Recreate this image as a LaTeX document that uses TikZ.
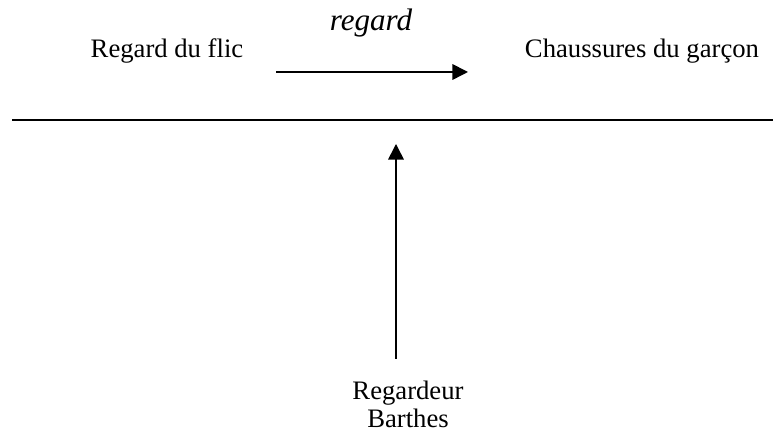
\documentclass[tikz,border=0pt]{standalone}
\usepackage{fontspec}
\setmainfont{Liberation Serif}
\usetikzlibrary{arrows.meta,positioning}
\tikzset{
  label12/.style={inner sep=0pt,font=\fontsize{12}{12.6}\selectfont},
  gaze/.style={-{Triangle[length=7pt,width=7pt]},line width=0.7pt}
}

\begin{document}
\begin{tikzpicture}[x=0.45pt,y=0.45pt]
    \useasboundingbox (0,0) rectangle (773,432);
    \node[label12,anchor=base] (flic) at (167,374) {Regard du flic};
    \node[label12,anchor=base] (shoes) at (642,374) {Chaussures du gar\c{c}on};
    \node[label12,anchor=base,font=\fontsize{14}{16}\selectfont\itshape] (regard) at (371,401) {regard};
    \node[label12,anchor=north,align=center] (barthes) at (408,51) {Regardeur\\Barthes};
    \coordinate (gazefrom) at (276,360);
    \coordinate (gazeto) at (468,360);
    \coordinate (lineleft) at (12,312);
    \coordinate (lineright) at (773,312);
    \coordinate (lookfrom) at (396,73);
    \coordinate (lookto) at (396,288);
    \draw[gaze] (gazefrom) -- (gazeto);
    \draw[line width=0.9pt] (lineleft) -- (lineright);
    \draw[gaze] (lookfrom) -- (lookto);
\end{tikzpicture}
\end{document}
